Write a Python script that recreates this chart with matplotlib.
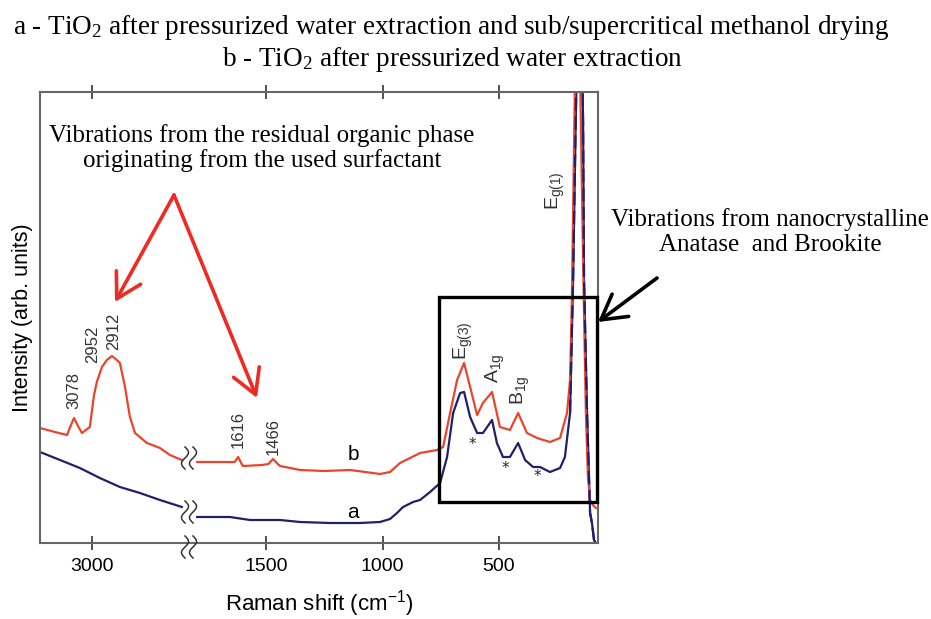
import numpy as np
import matplotlib
matplotlib.use("Agg")
import matplotlib.pyplot as plt
from matplotlib.patches import Rectangle, FancyArrowPatch

# Raman spectrum b (red): high wavenumber segment, then low wavenumber segment
b_hi_wn = [3223, 3159, 3107, 3090, 3077, 3060, 3043, 3009, 2991, 2979, 2957, 2936, 2914,
           2893, 2880, 2858, 2837, 2815, 2764, 2708, 2665, 2635, 2614]
b_hi_int = [115, 111, 108, 118, 125, 117, 110, 116, 148, 161, 176, 183, 187,
            183, 180, 156, 126, 110, 100, 95, 88, 85, 83]
b_lo_wn = [1796, 1655, 1635, 1620, 1605, 1599, 1517, 1490, 1470, 1450, 1440, 1354, 1250,
           1139, 1011, 968, 925, 839, 766, 740, 710, 680, 650, 624, 594, 569, 530, 496,
           453, 418, 380, 337, 281, 238, 208, 195, 187, 178, 170, 161, 152, 143, 135,
           127, 118, 109, 97, 84]
b_lo_int = [81, 81, 81, 86, 79, 77, 78, 79, 84, 79, 77, 73, 72,
            73, 69, 71, 80, 90, 93, 96, 130, 163, 180, 156, 128, 140, 151, 116,
            113, 130, 110, 105, 101, 105, 130, 163, 246, 396, 520, 540, 470, 340, 230,
            130, 65, 43, 38, 35]

# Raman spectrum a (navy)
a_hi_wn = [3223, 3137, 3052, 2966, 2880, 2794, 2708, 2614]
a_hi_int = [91, 83, 75, 65, 56, 50, 43, 36]
a_lo_wn = [1796, 1655, 1569, 1440, 1354, 1225, 1097, 1011, 968, 938, 912, 869, 839, 796,
           753, 723, 697, 667, 650, 624, 594, 569, 530, 509, 483, 453, 418, 388, 354,
           324, 281, 238, 217, 195, 182, 170, 161, 148, 139, 135, 122, 109, 101, 92, 84]
a_lo_int = [26, 26, 23, 23, 21, 20, 20, 21, 24, 30, 36, 41, 43, 51,
            60, 86, 130, 150, 151, 126, 110, 110, 123, 100, 86, 86, 100, 83, 76,
            76, 71, 75, 86, 130, 263, 430, 540, 560, 420, 263, 130, 30, 20, 3, 0]

x_ticks = [3000, 1500, 1000, 500]

# peak labels: (text, wavenumber, bottom of label)
peak_labels = [("3078", 3077, 134), ("2952", 2996, 180), ("2912", 2906, 193),
               ("1616", 1620, 95), ("1466", 1470, 88)]
mode_labels = [(r"E$\mathregular{_{g(3)}}$", 655, 183), (r"A$\mathregular{_{1g}}$", 517, 160),
               (r"B$\mathregular{_{1g}}$", 410, 138), (r"E$\mathregular{_{g(1)}}$", 260, 333)]
star_pos = [(616, 99), (474, 74), (337, 66)]

RED = "#E8452C"
NAVY = "#211E6B"
BREAK_LO, BREAK_HI = 1826, 2579
SQUEEZE = 1e-3


def fwd(w):
    w = np.asarray(w, dtype=float)
    gap = BREAK_HI - BREAK_LO
    return np.where(w <= BREAK_LO, w,
                    np.where(w >= BREAK_HI, w - gap + gap * SQUEEZE,
                             BREAK_LO + (w - BREAK_LO) * SQUEEZE))


def inv(u):
    u = np.asarray(u, dtype=float)
    gap = BREAK_HI - BREAK_LO
    top = BREAK_LO + gap * SQUEEZE
    return np.where(u <= BREAK_LO, u,
                    np.where(u >= top, u + gap - gap * SQUEEZE,
                             BREAK_LO + (u - BREAK_LO) / SQUEEZE))


W, H = 931, 619
fig = plt.figure(figsize=(W / 100, H / 100), dpi=100)
ax = fig.add_axes([40 / W, 1 - 543 / H, 558 / W, 451 / H])
ax.set_xscale("function", functions=(fwd, inv))
ax.set_xlim(3223, 75)
ax.set_ylim(0, 451)

ax.plot(a_hi_wn, a_hi_int, color=NAVY, lw=1.6)
ax.plot(a_lo_wn, a_lo_int, color=NAVY, lw=1.6)
ax.plot(b_hi_wn, b_hi_int, color=RED, lw=1.6)
ax.plot(b_lo_wn, b_lo_int, color=RED, lw=1.6)
# navy overlay dashed where the two Eg(1) peaks overlap
sel = [i for i, w in enumerate(a_lo_wn) if w <= 200]
ax.plot([a_lo_wn[i] for i in sel], [a_lo_int[i] for i in sel], color=NAVY, lw=1.6,
        dashes=(6, 2.5))

ax.set_xticks(x_ticks)
ax.set_xticklabels([str(t) for t in x_ticks], fontsize=14, family="Liberation Sans")
ax.set_yticks([])
ax.tick_params(axis="x", which="both", direction="inout", length=10, width=1.2,
               color="#333333", pad=6, top=True)
ax.minorticks_off()
for s in ax.spines.values():
    s.set_color("#666666")
    s.set_linewidth(1.5)

ax.set_xlabel(r"Raman shift (cm$\mathregular{^{-1}}$)", fontsize=16,
              family="Liberation Sans", labelpad=9)
ax.set_ylabel("Intensity (arb. units)", fontsize=15.5, family="Liberation Sans", labelpad=5)

for txt, w, yb in peak_labels:
    ax.text(w, yb, txt, rotation=90, ha="center", va="bottom", fontsize=12,
            family="Liberation Sans", color="#333333")
for txt, w, yb in mode_labels:
    ax.text(w, yb, txt, rotation=90, ha="center", va="bottom", fontsize=14,
            family="Liberation Sans", color="#333333")
for w, y in star_pos:
    ax.text(w, y, "*", ha="center", va="center", fontsize=11, color="#222222")
ax.text(1127, 88, "b", ha="center", va="center", fontsize=15, family="Liberation Sans")
ax.text(1127, 31, "a", ha="center", va="center", fontsize=15, family="Liberation Sans")

# box around the TiO2 modes
ax.add_patch(Rectangle((757, 41), 79 - 757, 246 - 41, fill=False, ec="black", lw=2.4,
                       clip_on=False, zorder=5))

serif = "Liberation Serif"
fig.text(451 / W, 1 - 27 / H,
         r"a - TiO$\mathregular{_2}$ after pressurized water extraction and sub/supercritical methanol drying",
         ha="center", va="center", fontsize=19.5, family=serif)
fig.text(452 / W, 1 - 60 / H, r"b - TiO$\mathregular{_2}$ after pressurized water extraction",
         ha="center", va="center", fontsize=19.5, family=serif)
fig.text(262 / W, 1 - 148 / H,
         "Vibrations from the residual organic phase\noriginating from the used surfactant",
         ha="center", va="center", fontsize=18, family=serif, linespacing=1.15)
fig.text(770 / W, 1 - 232 / H, "Vibrations from nanocrystalline\nAnatase  and Brookite",
         ha="center", va="center", fontsize=18, family=serif, linespacing=1.15)


def px(x, y):
    return (x / W, 1 - y / H)


for tip in [(115, 302), (257, 398)]:
    fig.add_artist(FancyArrowPatch(
        px(174, 195), px(*tip), transform=fig.transFigure,
        arrowstyle="->,head_length=7,head_width=4", color="#EE2A22", lw=2.6,
        mutation_scale=2.5, shrinkA=0, shrinkB=0))
fig.add_artist(FancyArrowPatch(
    px(657, 278), px(598, 322), transform=fig.transFigure,
    arrowstyle="->,head_length=7,head_width=4", color="black", lw=2.6,
    mutation_scale=2.5, shrinkA=0, shrinkB=0))

# break marks
t = np.linspace(0, 1, 40)
for yc in [458, 512, 547]:
    for dx in (-4, 4):
        xs = 189 + dx + 3.5 * np.sin(2 * np.pi * t)
        ys = yc - 11 + 22 * t
        fig.add_artist(plt.Line2D(xs / W, 1 - ys / H, transform=fig.transFigure,
                                  color="#333333", lw=1.1))

fig.savefig("out.png", dpi=100)
